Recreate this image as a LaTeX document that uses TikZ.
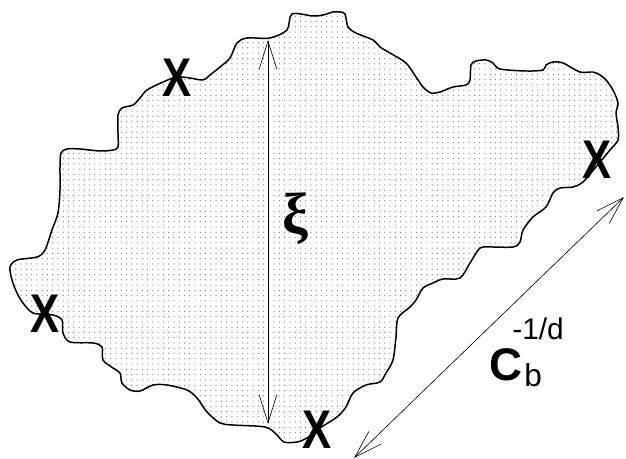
\documentclass[tikz,border=0pt]{standalone}
\usepackage{fontspec}
\setmainfont{Liberation Sans}
\newfontfamily\greekfont{Liberation Serif}
\usetikzlibrary{arrows.meta,patterns.meta}

\begin{document}
\begin{tikzpicture}[
    x=0.02cm, y=-0.02cm,
    % Style for the rough cluster outline (dotted fill)
    blob/.style={draw=black, line width=0.85pt, pattern={Dots[distance=3pt, radius=0.35pt]}, pattern color=black!55},
    % Style for the thin double-headed length arrows
    ray/.style={{Straight Barb[length=16pt, width=10pt]}-{Straight Barb[length=16pt, width=10pt]}, line width=0.35pt},
    % Style for the cross marks
    xmark/.style={font=\fontsize{31}{31}\selectfont\bfseries, inner sep=0pt}
]
\useasboundingbox (0,0) rectangle (626,459);

% Cluster outline
\draw[blob] plot[smooth cycle, tension=0.5] coordinates {
    (292,14) (313,16) (323,15) (333,12) (340,12) (345,14) (348,27) (356,33)
    (373,40) (380,47) (390,53) (406,63) (416,77) (423,87) (431,93) (440,92)
    (453,87) (466,85) (470,80) (471,65) (476,61) (486,60) (493,63) (500,69)
    (526,71) (543,70) (546,65) (553,62) (563,63) (580,72) (593,72) (600,75)
    (606,80) (613,90) (618,103) (616,113) (618,127) (618,140) (610,150)
    (595,168) (583,182) (573,187) (560,188) (553,193) (546,207) (533,217)
    (523,230) (520,242) (513,247) (490,247) (480,248) (470,263) (460,278)
    (443,279) (433,283) (423,288) (416,300) (410,307) (398,318) (396,337)
    (393,360) (386,373) (380,382) (366,385) (353,393) (346,407) (337,417)
    (320,428) (307,438) (297,442) (284,442) (276,434) (265,427) (233,425)
    (220,423) (207,412) (197,398) (187,390) (167,385) (153,385) (140,391)
    (130,390) (122,383) (120,373) (113,368) (103,360) (102,347) (93,343)
    (70,342) (63,333) (62,320) (53,315) (33,313) (23,303) (17,293) (12,280)
    (10,267) (17,260) (37,257) (45,250) (52,230) (58,213) (60,190) (60,167)
    (61,153) (67,149) (80,149) (100,151) (113,150) (118,147) (118,133)
    (118,115) (122,108) (133,105) (140,98) (147,90) (163,82) (177,77)
    (190,78) (203,80) (210,75) (220,67) (230,58) (237,43) (247,38) (270,38)
    (287,30)
};

% Cross marks on the boundary
\node[xmark] (x1) at (177,78) {\scalebox{0.8}[1]{X}};
\node[xmark] (x2) at (597,160) {\scalebox{0.8}[1]{X}};
\node[xmark] (x3) at (45,314) {\scalebox{0.8}[1]{X}};
\node[xmark] (x4) at (317,430) {\scalebox{0.8}[1]{X}};

% Size of the cluster
\coordinate (xitop) at (268,40);
\coordinate (xibot) at (268,424);
\draw[ray] (xitop) -- (xibot);
\node[font=\fontsize{33}{33}\selectfont\greekfont\bfseries, inner sep=0pt] (xi) at (295,219) {ξ};

% Distance between marks
\coordinate (cbtop) at (624,197);
\coordinate (cbbot) at (354,458);
\draw[ray] (cbtop) -- (cbbot);
\node[anchor=base west, inner sep=0pt, font=\fontsize{26}{26}\selectfont\bfseries] (cb) at (489,380) {C};
\node[anchor=base west, inner sep=0pt, font=\fontsize{18}{18}\selectfont] (cbsub) at (524,387) {b};
\node[anchor=base west, inner sep=0pt, font=\fontsize{17}{17}\selectfont] (cbsup) at (512,340) {-1/d};

\end{tikzpicture}
\end{document}
